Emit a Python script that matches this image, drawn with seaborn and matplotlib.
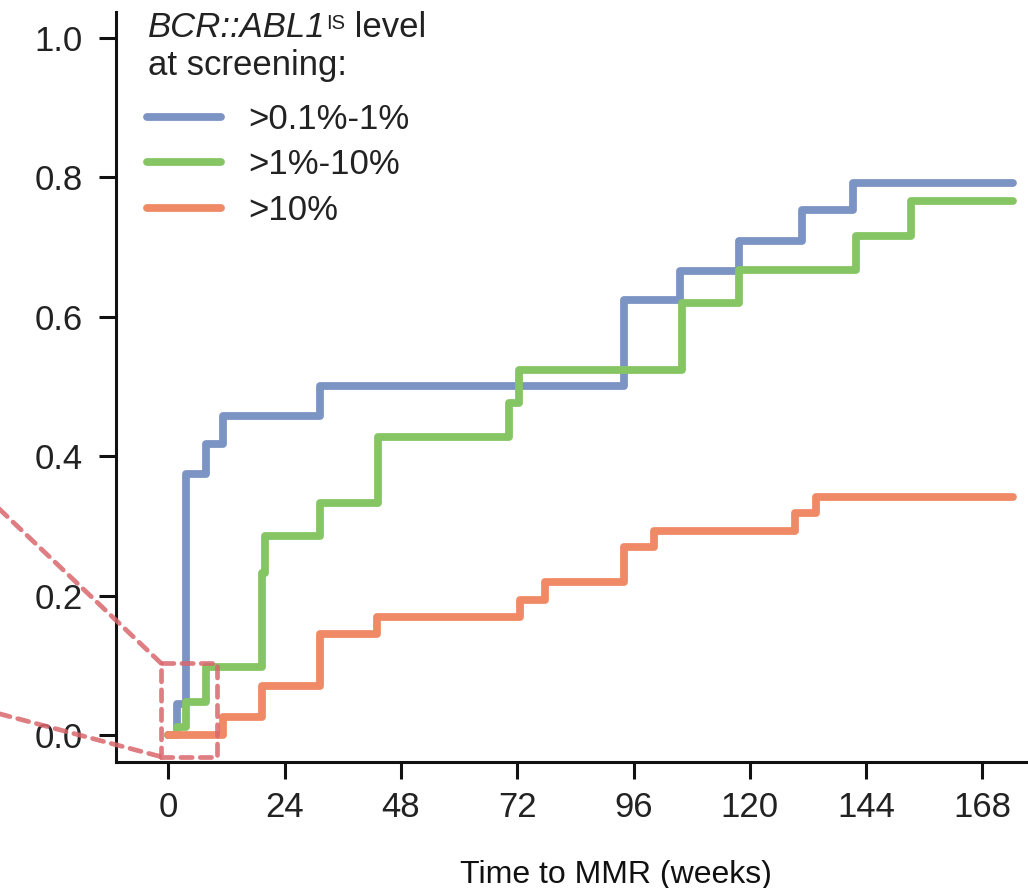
import numpy as np
import pandas as pd
import matplotlib
matplotlib.use("Agg")
import matplotlib.pyplot as plt
from matplotlib.patches import Rectangle
import seaborn as sns

# ---------------- data ----------------
groups = [">0.1%-1%", ">1%-10%", ">10%"]
colors = ["#7b94c4", "#86c564", "#f08a66"]

weeks_low = [0, 1.7, 3.7, 7.7, 11.2, 31.2, 94.1, 105.5, 117.7, 130.7, 141.3, 174.3]
prob_low = [0, 0.045, 0.375, 0.418, 0.458, 0.500, 0.624, 0.665, 0.708, 0.753, 0.791, 0.791]

weeks_mid = [0, 1.7, 3.7, 7.75, 19.3, 20.0, 31.2, 43.2, 70.3, 72.3, 106.1, 117.7, 142.0, 153.2, 174.3]
prob_mid = [0, 0.012, 0.048, 0.098, 0.232, 0.286, 0.332, 0.428, 0.476, 0.523, 0.619, 0.667, 0.715, 0.765, 0.765]

weeks_high = [0, 11.35, 19.4, 31.4, 43.0, 72.6, 77.7, 94.1, 100.3, 129.4, 133.6, 174.3]
prob_high = [0, 0.026, 0.071, 0.145, 0.170, 0.194, 0.219, 0.270, 0.292, 0.318, 0.341, 0.341]

xticks = [0, 24, 48, 72, 96, 120, 144, 168]
yticks = [0.0, 0.2, 0.4, 0.6, 0.8, 1.0]
xlabel = "Time to MMR (weeks)"

# zoom indicator (box around the origin and its connector lines)
zoom_box_x = [-1.5, 10.1]
zoom_box_y = [-0.031, 0.103]
connector_left_x = -40.0
connector_upper_y = 0.358
connector_lower_y = 0.040

# ---------------- build frame ----------------
frames = []
for g, w, p in [(groups[0], weeks_low, prob_low),
                (groups[1], weeks_mid, prob_mid),
                (groups[2], weeks_high, prob_high)]:
    frames.append(pd.DataFrame({"week": w, "prob": p, "group": g}))
df = pd.concat(frames, ignore_index=True)

sns.set_theme(style="ticks")
plt.rcParams["font.family"] = ["Liberation Sans", "DejaVu Sans"]

DPI = 100
fig = plt.figure(figsize=(10.28, 8.88), dpi=DPI)
ax = fig.add_axes([116 / 1028, (888 - 762.3) / 888, 1 - 116 / 1028, (762.3 - 11.7) / 888])

sns.lineplot(data=df, x="week", y="prob", hue="group", hue_order=groups,
             palette=dict(zip(groups, colors)), estimator=None, sort=True,
             drawstyle="steps-post", linewidth=5.6, ax=ax, legend=True)

ax.set_xlim(-10.8, 177.4)
ax.set_ylim(-0.039, 1.037)
ax.set_xticks(xticks)
ax.set_xticklabels([str(t) for t in xticks])
ax.set_yticks(yticks)
ax.set_yticklabels([f"{v:.1f}" for v in yticks])
ax.set_ylabel("")
ax.set_xlabel(xlabel, fontsize=23, color="#111111")
ax.xaxis.set_label_coords(0.548, -0.13)

for s in ["top", "right"]:
    ax.spines[s].set_visible(False)
for s in ["left", "bottom"]:
    ax.spines[s].set_linewidth(2.2)
    ax.spines[s].set_color("#111111")
ax.tick_params(axis="both", length=12, width=2.2, color="#111111",
               labelsize=25, labelcolor="#222222")
ax.tick_params(axis="x", pad=9)
ax.tick_params(axis="y", pad=12)

# zoom indicator
red = "#d9666c"
dash = (0, (2.4, 1.7))
rect = Rectangle((zoom_box_x[0], zoom_box_y[0]), zoom_box_x[1] - zoom_box_x[0],
                 zoom_box_y[1] - zoom_box_y[0], fill=False, edgecolor=red,
                 linewidth=3.4, linestyle=dash, alpha=0.85,
                 clip_on=False, zorder=5, joinstyle="round", capstyle="round")
ax.add_patch(rect)
for yc, yb in [(connector_upper_y, zoom_box_y[1]), (connector_lower_y, zoom_box_y[0])]:
    ln, = ax.plot([connector_left_x, zoom_box_x[0]], [yc, yb],
                  color=red, lw=3.4, ls=dash, alpha=0.85, clip_on=False, zorder=5)
    ln.set_dash_capstyle("round")

# legend (entries)
old = ax.get_legend()
handles = old.legend_handles
labels = [t.get_text() for t in old.get_texts()]
old.remove()
leg = ax.legend(handles, labels, loc="upper left",
                bbox_to_anchor=(146.7 / 1028, 1 - 103 / 888),
                bbox_transform=fig.transFigure, frameon=False, fontsize=25,
                handlelength=2.15, handletextpad=0.78, labelspacing=0.36,
                borderpad=0, borderaxespad=0)
for h in leg.legend_handles:
    h.set_linewidth(5.6)
for t in leg.get_texts():
    t.set_color("#222222")

# legend title: italic gene name with superscript
tx = 147.7 / 1028
t1 = fig.text(tx, 1 - 37 / 888, "BCR::ABL1", fontsize=25, style="italic",
              color="#222222", va="baseline", ha="left")
t2 = ax.annotate("IS", xy=(1, 1), xycoords=t1, xytext=(0.5, -2),
                 textcoords="offset points", fontsize=14.5, color="#222222",
                 va="top", ha="left", annotation_clip=False)
t3 = ax.annotate(" level", xy=(1, 0), xycoords=(t2, t1), fontsize=25,
                 color="#222222", va="bottom", ha="left", annotation_clip=False)
fig.text(tx, 1 - 75 / 888, "at screening:", fontsize=25, color="#222222",
         va="baseline", ha="left")

fig.savefig("out.png", dpi=DPI)
